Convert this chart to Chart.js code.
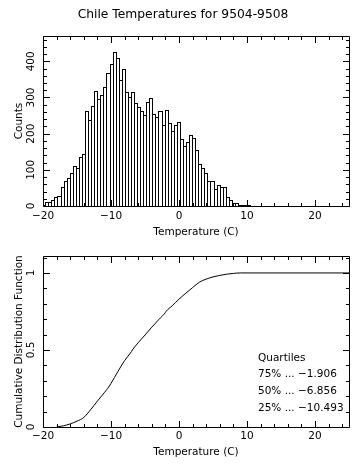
<!DOCTYPE html>
<html><head><meta charset="utf-8">
<script src="https://cdn.jsdelivr.net/npm/chart.js@4.4.0/dist/chart.umd.min.js"></script>
<style>
html,body{margin:0;padding:0;background:#fff;width:362px;height:471px;overflow:hidden}
canvas{position:absolute;left:0;top:0}
</style></head><body>
<canvas id="top" width="362" height="471"></canvas>
<canvas id="bot" width="362" height="471"></canvas>
<script>
// ---------- data ----------
const chartTitle = "Chile Temperatures for 9504-9508";
const binStart = -20.12;   // left edge of first histogram bin (C)
const binWidth = 0.45;     // histogram bin width (C)
const counts = [4,10,10,16,24,27,52,68,77,91,110,104,135,143,
  262,237,277,317,297,308,328,368,393,426,
  409,347,379,315,300,315,284,273,263,252,287,
  298,254,246,263,224,266,229,208,224,232,
  184,165,177,197,188,156,116,104,92,69,69,48,59,53,53,
  25,16,9,9,3,2,2,2];
const cdfTemps  = [-18,-17,-16,-15,-14,-13,-12,-11,-10.493,-10,-9,-8,-7,-6.856,-6,-5,-4,-3,-2,-1.906,-1,0,1,2,3,4,5,6,7,8,9,25];
const cdfValues = [0,0.008,0.02,0.038,0.062,0.112,0.168,0.222,0.25,0.283,0.359,0.431,0.489,0.5,0.547,0.597,0.648,0.696,0.743,0.75,0.787,0.83,0.868,0.905,0.94,0.96,0.974,0.984,0.992,0.997,1,1];
const xTicks = [-20,-10,0,10,20];
const histYTicks = [0,100,200,300,400];
const histYLabels = ["0","100","200","300","400"];
const cdfYTicks = [0,0.5,1];
const cdfYLabels = ["0","0.5","1"];
const quartileLines = ["Quartiles","75% ... \u22121.906","50% ... \u22126.856","25% ... \u221210.493"];

// ---------- drawing helpers ----------
const FONT = '"DejaVu Sans", sans-serif';
function fmt(v){ return (v<0?'\u2212':'') + Math.abs(v); }

// snap histogram bars to whole pixels so neighbouring outlines share one 1px line
const snapBars = {
  id:'snapBars',
  afterDatasetsUpdate(chart){
    chart.getDatasetMeta(0).data.forEach(el => {
      const l = Math.round(el.x - el.width/2);
      const r = Math.round(el.x + el.width/2) + 1;
      el.x = (l + r)/2; el.width = r - l;
      el.y = Math.round(el.y);
      el.base = Math.round(el.base) + 1;
    });
  }
};

const frame = {
  id:'frame',
  afterDraw(chart, args, o){
    const ctx = chart.ctx, a = chart.chartArea, xs = chart.scales.x, ys = chart.scales.y;
    const L = Math.round(a.left)+0.5, R = Math.round(a.right)+0.5, T = Math.round(a.top)+0.5, B = Math.round(a.bottom)+0.5;
    ctx.save();
    ctx.strokeStyle = '#000'; ctx.lineWidth = 1;
    ctx.beginPath();
    ctx.rect(L, T, R-L, B-T);
    for (let k = -10; k <= 12; k++) {
      const v = k*2;
      const len = (v % 10 === 0) ? 6.5 : 3.5;
      const px = Math.round(xs.getPixelForValue(v))+0.5;
      ctx.moveTo(px, B); ctx.lineTo(px, B-len);
      ctx.moveTo(px, T); ctx.lineTo(px, T+len);
    }
    for (let k = 0; k <= o.yMinorCount; k++) {
      const v = k*o.yMinorStep;
      const major = (k % o.yMajorEvery === 0);
      const len = major ? 6.5 : 3.5;
      const py = Math.round(ys.getPixelForValue(v))+0.5;
      ctx.moveTo(L, py); ctx.lineTo(L+len, py);
      ctx.moveTo(R, py); ctx.lineTo(R-len, py);
    }
    ctx.stroke();

    ctx.fillStyle = '#000';
    ctx.font = '10.5px ' + FONT;
    ctx.textAlign = 'center'; ctx.textBaseline = 'alphabetic';
    xTicks.forEach(v => ctx.fillText(fmt(v), xs.getPixelForValue(v), o.xLabelY));
    ctx.fillText(o.xTitle, (a.left+a.right)/2, o.xTitleY);
    o.yTicks.forEach((v,i) => {
      ctx.save(); ctx.translate(o.yLabelX, ys.getPixelForValue(v)); ctx.rotate(-Math.PI/2);
      ctx.fillText(o.yLabels[i], 0, 0); ctx.restore();
    });
    ctx.save(); ctx.translate(o.yTitleX, (a.top+a.bottom)/2); ctx.rotate(-Math.PI/2);
    ctx.fillText(o.yTitle, 0, 0); ctx.restore();

    if (o.title) {
      ctx.font = '12.3px ' + FONT;
      ctx.fillText(o.title, 183, 18);
    }
    if (o.notes) {
      ctx.font = '10.5px ' + FONT;
      ctx.textAlign = 'left';
      o.notes.forEach((t,i) => ctx.fillText(t, 258, o.notesY[i]));
    }
    ctx.restore();
  }
};

function axisOpts(min, max, horizontal){
  return {
    type:'linear', min:min, max:max, offset:false, display:true,
    ticks:{display:false}, grid:{display:false, drawTicks:false}, border:{display:false},
    afterFit(s){ if (horizontal) s.height = 0; else s.width = 0; }
  };
}

// ---------- histogram ----------
new Chart(document.getElementById('top'), {
  type:'bar',
  data:{ datasets:[{
    data: counts.map((c,i) => ({x: binStart + (i+0.5)*binWidth, y: c})),
    backgroundColor:'#fff', borderColor:'#000', borderWidth:1, borderSkipped:false,
    barPercentage:1, categoryPercentage:1, inflateAmount:0, clip:0
  }]},
  options:{
    responsive:false, animation:false, devicePixelRatio:1,
    layout:{padding:{left:43, right:13, top:36, bottom:265}},
    plugins:{ legend:{display:false}, tooltip:{enabled:false},
      frame:{ title:chartTitle, xTitle:'Temperature (C)', yTitle:'Counts',
        yTicks:histYTicks, yLabels:histYLabels, yMinorStep:20, yMinorCount:23, yMajorEvery:5,
        xLabelY:218.5, xTitleY:235, yLabelX:34, yTitleX:21.5 } },
    scales:{ x:axisOpts(-20,25,true), y:axisOpts(0,470,false) }
  },
  plugins:[snapBars, frame]
});

// ---------- cumulative distribution ----------
new Chart(document.getElementById('bot'), {
  type:'line',
  data:{ datasets:[{
    data: cdfTemps.map((t,i) => ({x:t, y:cdfValues[i]})),
    borderColor:'#000', borderWidth:1, pointRadius:0, fill:false,
    cubicInterpolationMode:'monotone', clip:0
  }]},
  options:{
    responsive:false, animation:false, devicePixelRatio:1,
    layout:{padding:{left:43, right:13, top:256, bottom:44}},
    plugins:{ legend:{display:false}, tooltip:{enabled:false},
      frame:{ xTitle:'Temperature (C)', yTitle:'Cumulative Distribution Function',
        yTicks:cdfYTicks, yLabels:cdfYLabels, yMinorStep:0.1, yMinorCount:11, yMajorEvery:5,
        xLabelY:438.5, xTitleY:455, yLabelX:34, yTitleX:21.5,
        notes:quartileLines, notesY:[361,376.5,393.5,410.5] } },
    scales:{ x:axisOpts(-20,25,true), y:axisOpts(0,1.11,false) }
  },
  plugins:[frame]
});
</script>
</body></html>
